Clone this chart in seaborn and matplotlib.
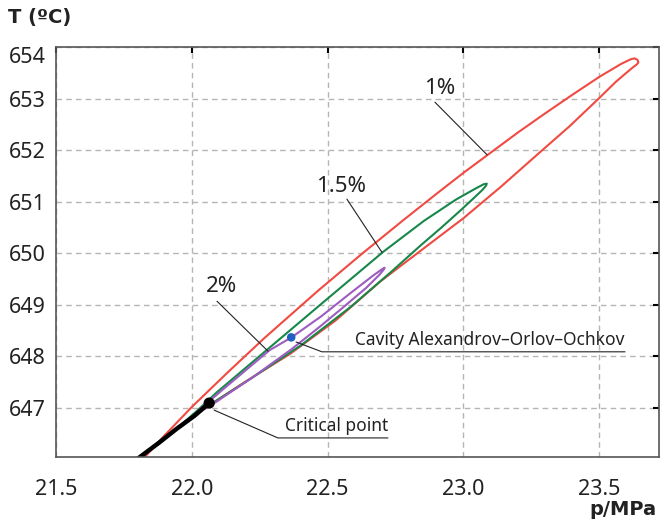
import seaborn as sns
import matplotlib.pyplot as plt
import pandas as pd

sns.set_theme(style="white")
plt.rcParams['font.family'] = ['Noto Sans', 'DejaVu Sans']

# saturation line up to the critical point
sat_p = [21.760, 21.809, 21.880, 21.945, 22.010, 22.064]
sat_T = [645.85, 646.05, 646.33, 646.60, 646.85, 647.096]

# 1 % contour
red_lower_p = [21.770, 21.809, 21.880, 21.945, 22.000, 22.066, 22.200, 22.362, 22.530, 22.693,
               22.850, 23.000, 23.140, 23.271, 23.390, 23.500, 23.560, 23.600, 23.625, 23.638]
red_lower_T = [645.90, 646.05, 646.33, 646.60, 646.82, 647.06, 647.52, 648.05, 648.70, 649.45,
               650.08, 650.68, 651.30, 651.91, 652.46, 653.01, 653.32, 653.50, 653.61, 653.66]
red_upper_p = [21.795, 21.827, 21.900, 22.000, 22.136, 22.268, 22.466, 22.624, 22.778, 22.900,
               23.000, 23.100, 23.200, 23.300, 23.400, 23.500, 23.580, 23.615, 23.630, 23.641, 23.644]
red_upper_T = [645.87, 646.05, 646.47, 647.02, 647.71, 648.36, 649.28, 649.98, 650.64, 651.15,
               651.56, 651.95, 652.34, 652.71, 653.07, 653.42, 653.67, 653.76, 653.78, 653.75, 653.70]

# 1.5 % contour
green_lower_p = [21.945, 22.066, 22.220, 22.403, 22.587, 22.734, 22.844, 22.917, 22.991, 23.040,
                 23.070, 23.083]
green_lower_T = [646.60, 647.06, 647.58, 648.22, 648.97, 649.64, 650.16, 650.49, 650.84, 651.08,
                 651.23, 651.31]
green_upper_p = [21.945, 22.018, 22.091, 22.257, 22.477, 22.705, 22.855, 22.972, 23.046, 23.075,
                 23.086]
green_upper_T = [646.60, 646.94, 647.30, 648.04, 649.02, 650.03, 650.63, 651.04, 651.26, 651.34,
                 651.35]

# 2 % contour
purple_lower_p = [22.018, 22.073, 22.220, 22.367, 22.472, 22.550, 22.642, 22.690, 22.706]
purple_lower_T = [646.90, 647.06, 647.58, 648.14, 648.58, 648.92, 649.33, 649.58, 649.68]
purple_upper_p = [22.018, 22.110, 22.286, 22.367, 22.477, 22.587, 22.668, 22.700, 22.710]
purple_upper_T = [646.92, 647.34, 648.12, 648.37, 648.78, 649.24, 649.57, 649.69, 649.72]

crit_p, crit_T = 22.064, 647.096
cav_p, cav_T = 22.366, 648.37

x_ticks = [21.5, 22.0, 22.5, 23.0, 23.5]
y_ticks = [647, 648, 649, 650, 651, 652, 653, 654]


def loop(lp, lT, up, uT):
    # lower branch to the tip, then the upper branch back
    return pd.DataFrame({"p": lp + up[::-1], "T": lT + uT[::-1]})


fig = plt.figure(figsize=(6.6, 5.21), dpi=100)
ax = fig.add_axes([0.0848, 0.1228, 0.9137, 0.787])

ax.grid(True, color="#b5b5b5", linestyle=(0, (4, 3)), linewidth=1)
ax.set_axisbelow(True)

sns.lineplot(data=loop(red_lower_p, red_lower_T, red_upper_p, red_upper_T), x="p", y="T",
             sort=False, estimator=None, color="#f04a42", linewidth=1.5, ax=ax)
sns.lineplot(data=loop(green_lower_p, green_lower_T, green_upper_p, green_upper_T), x="p", y="T",
             sort=False, estimator=None, color="#17874a", linewidth=1.5, ax=ax)
sns.lineplot(data=loop(purple_lower_p, purple_lower_T, purple_upper_p, purple_upper_T), x="p", y="T",
             sort=False, estimator=None, color="#9d5cc0", linewidth=1.5, ax=ax)
sns.lineplot(x=sat_p, y=sat_T, sort=False, estimator=None, color="black", linewidth=3.2, ax=ax)

sns.scatterplot(x=[crit_p], y=[crit_T], color="black", s=65, edgecolor="none", ax=ax, zorder=5)
sns.scatterplot(x=[cav_p], y=[cav_T], color="#2160c0", s=38, edgecolor="none", ax=ax, zorder=5)

# labels with leader lines
lead = dict(arrowstyle="-", color="#222222", lw=0.8, shrinkA=0, shrinkB=0)
ax.annotate("", xy=(23.087, 651.91), xytext=(22.895, 652.93), arrowprops=lead)
ax.text(22.914, 653.19, "1%", fontsize=16, ha="center", va="center", color="#222222")
ax.annotate("", xy=(22.700, 650.02), xytext=(22.571, 651.05), arrowprops=lead)
ax.text(22.549, 651.29, "1.5%", fontsize=16, ha="center", va="center", color="#222222")
ax.annotate("", xy=(22.281, 648.10), xytext=(22.093, 649.07), arrowprops=lead)
ax.text(22.108, 649.35, "2%", fontsize=16, ha="center", va="center", color="#222222")

ax.plot([22.384, 22.479, 23.595], [648.28, 648.09, 648.09], color="#222222", lw=0.8)
ax.text(22.601, 648.15, "Cavity Alexandrov\u2013Orlov\u2013Ochkov", fontsize=12.5,
        ha="left", va="bottom", color="#222222")
ax.plot([22.082, 22.317, 22.722], [646.96, 646.42, 646.42], color="#222222", lw=0.8)
ax.text(22.343, 646.48, "Critical point", fontsize=12.5, ha="left", va="bottom", color="#222222")

ax.set_xlim(21.5, 23.72)
ax.set_ylim(646.05, 654.0)
ax.set_xticks(x_ticks)
ax.set_xticklabels([f"{v:.1f}" for v in x_ticks])
ax.set_yticks(y_ticks)
ax.set_yticklabels([str(v) for v in y_ticks])
ax.set_xlabel("")
ax.set_ylabel("")

ax.tick_params(direction="in", length=4, width=1.5, color="black", top=True, right=True,
               labelsize=15.5, labelcolor="#222222")
ax.tick_params(axis="x", pad=15.5)
ax.tick_params(axis="y", pad=7)
ax.get_yticklabels()[-1].set_va("top")

for s in ax.spines.values():
    s.set_color("#555555")
    s.set_linewidth(1.2)

fig.text(0.012, 0.985, "T (ºC)", fontsize=14, fontweight="bold", family="DejaVu Sans",
         ha="left", va="top", color="#222222")
fig.text(0.994, 0.011, "p/MPa", fontsize=14, fontweight="bold", family="DejaVu Sans",
         ha="right", va="baseline", color="#222222")

fig.savefig("out.png", dpi=100)
